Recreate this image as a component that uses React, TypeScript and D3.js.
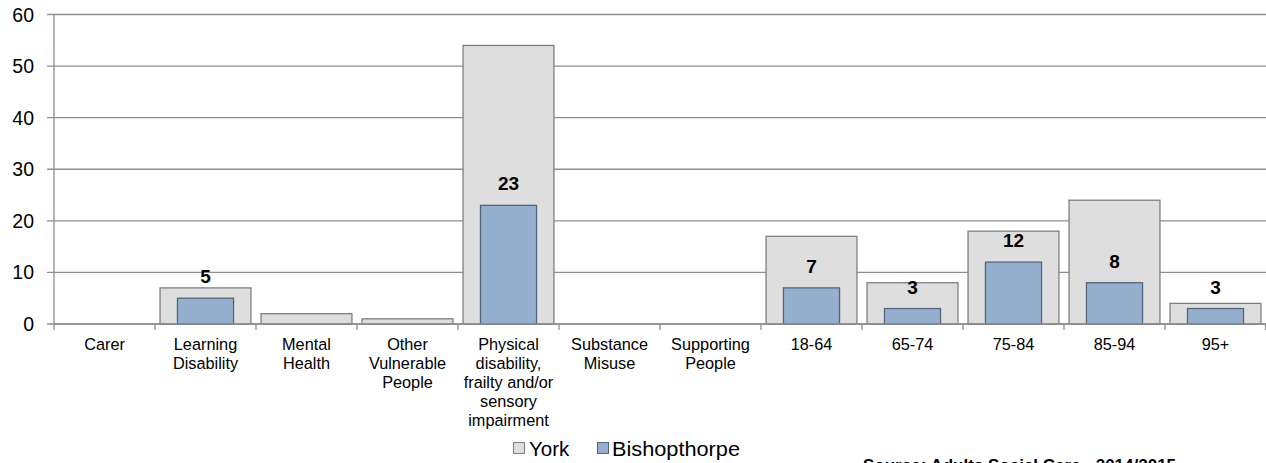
import React from "react";
import * as d3 from "d3";

const categories: string[][] = [
  ["Carer"],
  ["Learning", "Disability"],
  ["Mental", "Health"],
  ["Other", "Vulnerable", "People"],
  ["Physical", "disability,", "frailty and/or", "sensory", "impairment"],
  ["Substance", "Misuse"],
  ["Supporting", "People"],
  ["18-64"],
  ["65-74"],
  ["75-84"],
  ["85-94"],
  ["95+"],
];
const yorkValues = [0, 7, 2, 1, 54, 0, 0, 17, 8, 18, 24, 4];
const bishopValues: (number | null)[] = [null, 5, null, null, 23, null, null, 7, 3, 12, 8, 3];
const yTicks = [0, 10, 20, 30, 40, 50, 60];
const seriesNames = ["York", "Bishopthorpe"];

const W = 1266;
const H = 463;
const left = 54;
const right = 1266;
const top = 14.5;
const bottom = 324;
const font = "Liberation Sans, Arial, sans-serif";

export default function App() {
  const idx = categories.map((_, i) => i);
  const x = d3.scaleBand<number>().domain(idx).range([left, right]).paddingInner(0).paddingOuter(0);
  const y = d3.scaleLinear().domain([0, 60]).range([bottom, top]);
  const bw = x.bandwidth();
  const yorkW = bw * 0.9;
  const bishW = bw * 0.555;

  return (
    <svg width={W} height={H} style={{ position: "absolute", left: 0, top: 0, display: "block" }} fontFamily={font}>
      <rect x={0} y={0} width={W} height={H} fill="#fff" />
      {yTicks.map((t) => (
        <g key={t}>
          <line x1={left - 7} x2={right} y1={y(t)} y2={y(t)} stroke="#8e8e8e" strokeWidth={1.3} />
          <text x={34} y={y(t) + 7} textAnchor="end" fontSize={19.5} fill="#000">
            {t}
          </text>
        </g>
      ))}
      <line x1={left} x2={left} y1={top} y2={bottom} stroke="#8e8e8e" strokeWidth={1.3} />
      {idx.map((i) => (
        <line key={i} x1={x(i)!} x2={x(i)!} y1={bottom} y2={bottom + 6} stroke="#8e8e8e" strokeWidth={1.3} />
      ))}
      <line x1={right - 0.5} x2={right - 0.5} y1={bottom} y2={bottom + 6} stroke="#8e8e8e" strokeWidth={1.3} />
      {idx.map((i) => {
        const cx = x(i)! + bw / 2;
        const v = yorkValues[i];
        return v > 0 ? (
          <rect
            key={"y" + i}
            x={cx - yorkW / 2}
            y={y(v)}
            width={yorkW}
            height={bottom - y(v)}
            fill="#dedede"
            stroke="#7f7f7f"
            strokeWidth={1.3}
          />
        ) : null;
      })}
      {idx.map((i) => {
        const cx = x(i)! + bw / 2;
        const v = bishopValues[i];
        if (v == null || v <= 0) return null;
        return (
          <g key={"b" + i}>
            <rect
              x={cx - bishW / 2}
              y={y(v)}
              width={bishW}
              height={bottom - y(v)}
              fill="#95b0cf"
              stroke="#55647a"
              strokeWidth={1.3}
            />
            <text x={cx} y={y(v) - 15} textAnchor="middle" fontSize={19} fontWeight="bold" fill="#000">
              {v}
            </text>
          </g>
        );
      })}
      <line x1={left} x2={right} y1={bottom} y2={bottom} stroke="#8e8e8e" strokeWidth={1.3} />
      {idx.map((i) => {
        const cx = x(i)! + bw / 2;
        return (
          <text key={"l" + i} x={cx} y={350} textAnchor="middle" fontSize={16.3} fill="#000">
            {categories[i].map((ln, k) => (
              <tspan key={k} x={cx} dy={k === 0 ? 0 : 19}>
                {ln}
              </tspan>
            ))}
          </text>
        );
      })}
      <g>
        <rect x={513.5} y={442.5} width={11} height={11} fill="#dedede" stroke="#7f7f7f" strokeWidth={1} />
        <text x={529} y={456} fontSize={20.5} fill="#000">
          {seriesNames[0]}
        </text>
        <rect x={597.5} y={442.5} width={11} height={11} fill="#95b0cf" stroke="#55647a" strokeWidth={1} />
        <text x={612} y={456} fontSize={20.5} fill="#000" textLength={128} lengthAdjust="spacingAndGlyphs">
          {seriesNames[1]}
        </text>
      </g>
      <text x={863} y={471} fontSize={17} fontWeight="bold" fill="#000">
        Source: Adults Social Care - 2014/2015
      </text>
    </svg>
  );
}
